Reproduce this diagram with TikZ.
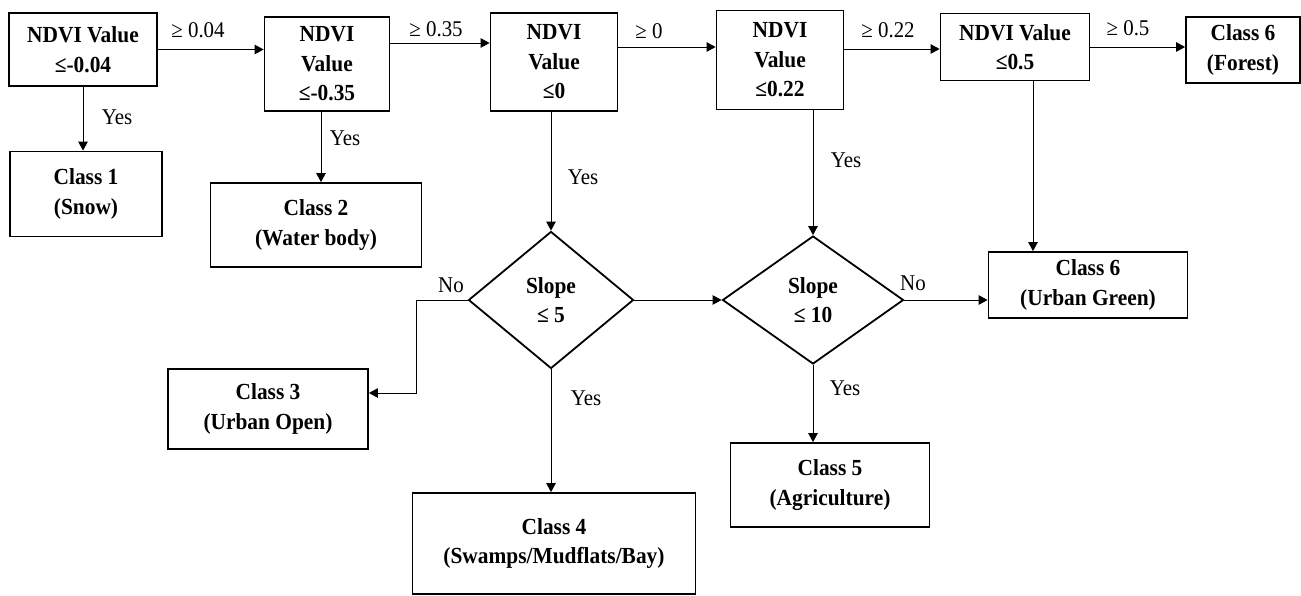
\documentclass[tikz,border=0pt]{standalone}
\usepackage{fontspec}
\setmainfont{Liberation Serif}[FakeStretch=0.93]
\usetikzlibrary{arrows.meta,positioning,shapes.geometric}

\begin{document}
\begin{tikzpicture}[
  x=1pt, y=-1pt, >={Triangle[length=9pt,width=9.5pt]}, line join=miter,
  ndvi/.style={draw, line width=1.8pt, align=center, inner sep=0pt,
    font=\bfseries\fontsize{23}{29.5}\selectfont},
  slope/.style={ndvi, diamond, aspect=1.2},
  lbl/.style={font=\fontsize{22.5}{25}\selectfont, inner sep=0pt},
  link/.style={->, line width=0.9pt}]

\useasboundingbox (0,0) rectangle (1301,596);

% ---- NDVI tests along the top -------------------------------------------
\node[ndvi, minimum width=148pt, minimum height=73pt] (n1) at (83,49.5) {NDVI Value\\≤-0.04};
\node[ndvi, minimum width=125pt, minimum height=94pt] (n2) at (327,64) {NDVI\\Value\\≤-0.35};
\node[ndvi, minimum width=127pt, minimum height=98pt] (n3) at (554,62) {NDVI\\Value\\≤0};
\node[ndvi, minimum width=127pt, minimum height=99pt] (n4) at (780,60) {NDVI\\Value\\≤0.22};
\node[ndvi, minimum width=149pt, minimum height=67pt] (n5) at (1015,47) {NDVI Value\\≤0.5};
\node[ndvi, minimum width=114pt, minimum height=66pt] (forest) at (1243,50) {Class 6\\(Forest)};

% ---- classes and slope tests ---------------------------------------------
\node[ndvi, minimum width=152pt, minimum height=85pt] (snow) at (86,194) {Class 1\\(Snow)};
\node[ndvi, minimum width=211pt, minimum height=84pt] (water) at (316,225) {Class 2\\(Water body)};
\node[slope, minimum width=165pt, minimum height=137pt] (s5) at (551,300) {Slope\\≤ 5};
\node[slope, minimum width=181pt, minimum height=128pt] (s10) at (813,300) {Slope\\≤ 10};
\node[ndvi, minimum width=200pt, minimum height=80pt] (open) at (268,409) {Class 3\\(Urban Open)};
\node[ndvi, minimum width=283pt, minimum height=101pt] (swamp) at (554,543.5) {Class 4\\(Swamps/Mudflats/Bay)};
\node[ndvi, minimum width=199pt, minimum height=84pt] (agri) at (830,485) {Class 5\\(Agriculture)};
\node[ndvi, minimum width=199pt, minimum height=66pt] (green) at (1088,285) {Class 6\\(Urban Green)};

% ---- threshold chain ------------------------------------------------------
\draw[link] (n1.east) -- (n1.east -| n2.west);
\draw[link] ([yshift=21pt]n2.east) -- ([yshift=21pt]n2.east -| n3.west);
\draw[link] ([yshift=15pt]n3.east) -- ([yshift=15pt]n3.east -| n4.west);
\draw[link] ([yshift=11pt]n4.east) -- ([yshift=11pt]n4.east -| n5.west);
\draw[link] (n5.east) -- (n5.east -| forest.west);

\node[lbl] (g1) at (198,30) {≥ 0.04};
\node[lbl] (g2) at (436,29) {≥ 0.35};
\node[lbl] (g3) at (649,31) {≥ 0};
\node[lbl] (g4) at (888,30) {≥ 0.22};
\node[lbl] (g5) at (1128,28) {≥ 0.5};

% ---- yes branches ---------------------------------------------------------
\draw[link] (n1.south) -- (n1.south |- snow.north);
\draw[link] ([xshift=-6pt]n2.south) -- ([xshift=-6pt]n2.south |- water.north);
\draw[link] (n3.south -| s5.north) -- (s5.north);
\draw[link] (n4.south -| s10.north) -- (s10.north);
\draw[link] ([xshift=18pt]n5.south) -- ([xshift=18pt]n5.south |- green.north);
\draw[link] (s5.south) -- (s5.south |- swamp.north);
\draw[link] (s10.south) -- (s10.south |- agri.north);

\node[lbl] (y1) at (117,117) {Yes};
\node[lbl] (y2) at (345,138) {Yes};
\node[lbl] (y3) at (583,177) {Yes};
\node[lbl] (y4) at (846,160) {Yes};
\node[lbl] (y5) at (586,398) {Yes};
\node[lbl] (y6) at (845,388) {Yes};

% ---- no branches ----------------------------------------------------------
\draw[link] (s5.west) -- ++(-51,0) |- ([yshift=16pt]open.east);
\draw[link] (s5.east) -- (s10.west);
\draw[link] (s10.east) -- (s10.east -| green.west);

\node[lbl] (no1) at (451,285) {No};
\node[lbl] (no2) at (913,283) {No};

\end{tikzpicture}
\end{document}
